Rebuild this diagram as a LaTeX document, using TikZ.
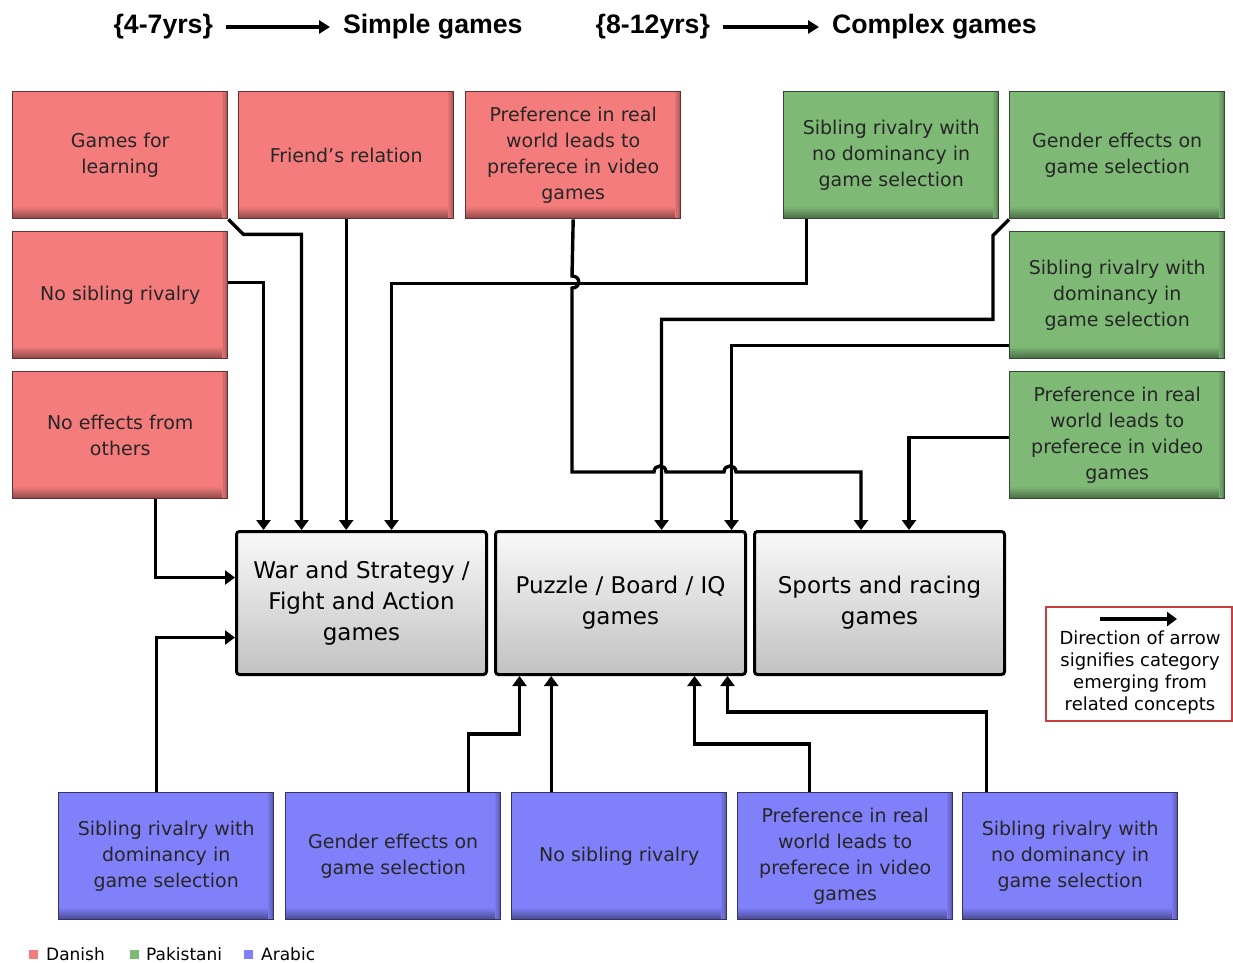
\documentclass[tikz,border=0pt]{standalone}
\usepackage{fontspec}
\setmainfont{DejaVu Sans}
\newfontfamily\headfont{Liberation Sans}
\usetikzlibrary{arrows.meta}

\definecolor{danish}{RGB}{244,124,124}
\definecolor{pakistani}{RGB}{126,186,118}
\definecolor{arabic}{RGB}{128,128,250}
\definecolor{keyred}{RGB}{205,60,60}

\tikzset{
  concept/.style={draw=#1!40!black, line width=1.4pt, fill=#1,
    minimum width=215pt, minimum height=127pt, anchor=north west,
    align=center, inner sep=0pt, text=black!85,
    font=\fontsize{19}{26}\selectfont,
    path picture={
      % bevel: darker bands towards the bottom and right edges
      \foreach \k in {0,...,5} {
        \pgfmathsetmacro{\shadeamt}{96-7*\k}
        \fill[#1!\shadeamt!black]
          ([yshift={12pt-2pt*\k}]path picture bounding box.south west)
          rectangle (path picture bounding box.south east);
      }
      \foreach \k in {0,...,3} {
        \pgfmathsetmacro{\shadeamt}{94-7*\k}
        \fill[#1!\shadeamt!black]
          ([xshift={-6pt+1.5pt*\k}]path picture bounding box.north east)
          rectangle (path picture bounding box.south east);
      }
    }},
  category/.style={draw=black, line width=3pt, rounded corners=3pt,
    top color=gray!5, bottom color=gray!48,
    minimum width=250pt, minimum height=143pt, anchor=north west,
    align=center, inner sep=0pt, font=\fontsize{23}{31}\selectfont},
  conn/.style={line width=3.4pt, -{Triangle[length=10pt,width=14pt]}},
  head/.style={inner sep=0pt, outer sep=0pt,
    font=\headfont\bfseries\fontsize{26.7}{30}\selectfont},
  headarrow/.style={line width=3.4pt, -{Triangle[length=11pt,width=13pt]},
    shorten <=13pt, shorten >=13pt},
  swatch/.style={minimum size=9pt, inner sep=0pt},
  legtext/.style={anchor=west, inner sep=0pt, font=\fontsize{17}{20}\selectfont}
}

\begin{document}
\begin{tikzpicture}[x=1pt, y=-1pt]
\useasboundingbox (0,0) rectangle (1233,962);

% age groups and game complexity
\node[head, anchor=east] (young) at (213,27) {\{4-7yrs\}};
\node[head, anchor=west] (simple) at (343,27) {Simple games};
\node[head, anchor=east] (old) at (710,27) {\{8-12yrs\}};
\node[head, anchor=west] (complex) at (832,27) {Complex games};
\draw[headarrow] (young) -- (simple);
\draw[headarrow] (old) -- (complex);

% Danish concepts
\node[concept=danish] (R1) at (12,91) {Games for\\learning};
\node[concept=danish] (R2) at (238,91) {Friend's relation};
\node[concept=danish] (R3) at (465,91) {Preference in real\\world leads to\\preferece in video\\games};
\node[concept=danish] (R4) at (12,231) {No sibling rivalry};
\node[concept=danish] (R5) at (12,371) {No effects from\\others};

% Pakistani concepts
\node[concept=pakistani] (G1) at (783,91) {Sibling rivalry with\\no dominancy in\\game selection};
\node[concept=pakistani] (G2) at (1009,91) {Gender effects on\\game selection};
\node[concept=pakistani] (G3) at (1009,231) {Sibling rivalry with\\dominancy in\\game selection};
\node[concept=pakistani] (G4) at (1009,371) {Preference in real\\world leads to\\preferece in video\\games};

% game categories
\node[category] (W) at (235,530) {War and Strategy /\\Fight and Action\\games};
\node[category] (P) at (494,530) {Puzzle / Board / IQ\\games};
\node[category] (S) at (753,530) {Sports and racing\\games};

% Arabic concepts
\node[concept=arabic] (B1) at (58,792) {Sibling rivalry with\\dominancy in\\game selection};
\node[concept=arabic] (B2) at (285,792) {Gender effects on\\game selection};
\node[concept=arabic] (B3) at (511,792) {No sibling rivalry};
\node[concept=arabic] (B4) at (737,792) {Preference in real\\world leads to\\preferece in video\\games};
\node[concept=arabic] (B5) at (962,792) {Sibling rivalry with\\no dominancy in\\game selection};

% links into War and Strategy
\draw[conn] (R1.south east) -- ++(15,15) -| ([xshift=-60pt]W.north);
\draw[conn] (R2.south) -- (R2.south |- W.north);
\draw[conn] ([yshift=13pt]R4.east) -| ([xshift=-98pt]W.north);
\draw[conn] ([xshift=35.5pt]R5.south) |- ([yshift=25.5pt]W.west);
\draw[conn] ([xshift=-10pt]B1.north) |- ([yshift=-34.5pt]W.west);
\draw[conn] ([xshift=-85pt]G1.south) -- ++(0,64) -| ([xshift=30pt]W.north);

% Danish preference link to Sports, hopping over crossing lines
\draw[conn] (R3.south) -- (572,276) .. controls (581,276) and (581,288) .. (572,288)
  -- (572,472) -- (654,472) .. controls (654,464) and (666,464) .. (666,472)
  -- (724,472) .. controls (724,464) and (736,464) .. (736,472)
  -| ([xshift=-18.5pt]S.north);

% links into Puzzle and Sports
\draw[conn] (G2.south west) -- ++(-16,16) -- ++(0,84) -| ([xshift=41pt]P.north);
\draw[conn] ([yshift=-50.5pt]G3.west) -| ([xshift=111pt]P.north);
\draw[conn] ([yshift=-2.5pt]G4.west) -| ([xshift=29.5pt]S.north);
\draw[conn] ([xshift=75pt]B2.north) -- ++(0,-58) -| ([xshift=-101pt]P.south);
\draw[conn] ([xshift=-68pt]B3.north) -- ([xshift=-68pt]B3.north |- P.south);
\draw[conn] ([xshift=-36pt]B4.north) -- ++(0,-48) -| ([xshift=74pt]P.south);
\draw[conn] ([xshift=-84pt]B5.north) -- ++(0,-80) -| ([xshift=107pt]P.south);

% key
\node[draw=keyred, line width=1.5pt, fill=white, minimum width=186pt,
  minimum height=114pt, anchor=north west, inner sep=0pt] (key) at (1045,606) {};
\coordinate (keytail) at (1100,619);
\coordinate (keyhead) at (1177,619);
\draw[conn] (keytail) -- (keyhead);
\node[align=center, inner sep=0pt, font=\fontsize{18}{22}\selectfont] (keytext) at (1140,673)
  {Direction of arrow\\signifies category\\emerging from\\related concepts};

% legend
\node[swatch, fill=danish] (sd) at (33,954) {};
\node[legtext] (ld) at (46,954) {Danish};
\node[swatch, fill=pakistani] (sp) at (134,954) {};
\node[legtext] (lp) at (146,954) {Pakistani};
\node[swatch, fill=arabic] (sa) at (248,954) {};
\node[legtext] (la) at (261,954) {Arabic};
\end{tikzpicture}
\end{document}
